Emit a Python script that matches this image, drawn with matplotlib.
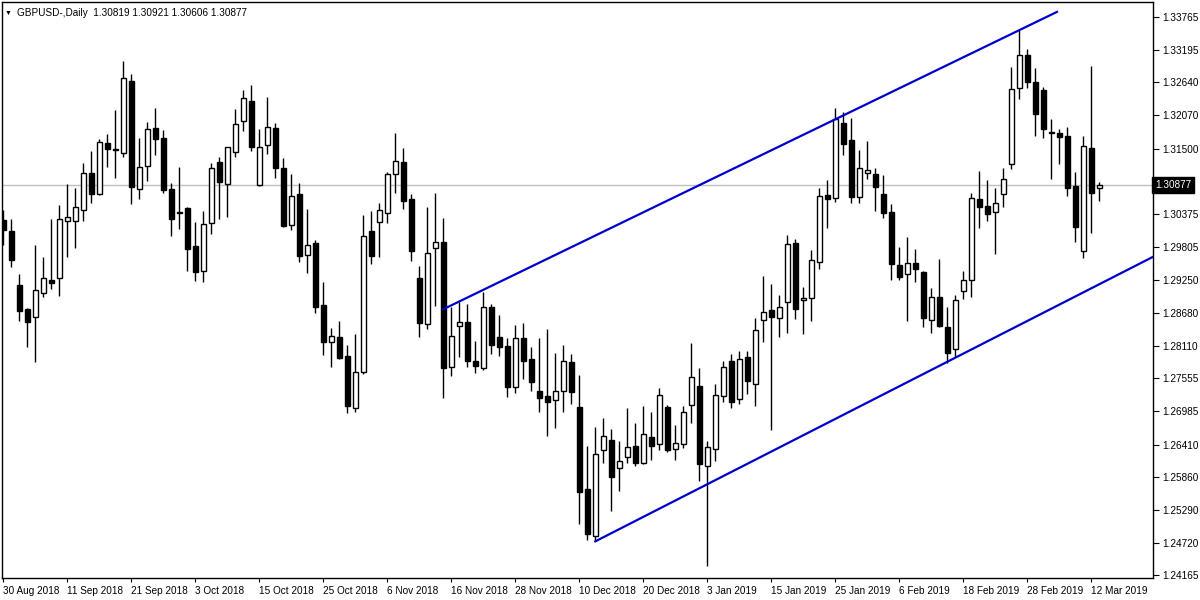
import matplotlib.pyplot as plt
import numpy as np

# daily GBPUSD candles, 30 Aug 2018 .. 13 Mar 2019
opens = [1.3027, 1.3008, 1.2915, 1.2874, 1.2860, 1.2902, 1.2925, 1.2927, 1.3025, 1.3025,
         1.3044, 1.3108, 1.3072, 1.3159, 1.3149, 1.3142, 1.3266, 1.3080, 1.3120, 1.3185,
         1.3168, 1.3080, 1.3041, 1.3048, 1.2982, 1.2939, 1.3022, 1.3127, 1.3089, 1.3144,
         1.3197, 1.3232, 1.3087, 1.3156, 1.3185, 1.3116, 1.3018, 1.3072, 1.2967, 1.2987,
         1.2881, 1.2817, 1.2826, 1.2793, 1.2704, 1.2766, 1.3008, 1.3024, 1.3039, 1.3106,
         1.3127, 1.3063, 1.2927, 1.2848, 1.2979, 1.2989, 1.2774, 1.2845, 1.2852, 1.2785,
         1.2773, 1.2878, 1.2826, 1.2810, 1.2740, 1.2824, 1.2788, 1.2733, 1.2725, 1.2718,
         1.2733, 1.2783, 1.2706, 1.2565, 1.2484, 1.2632, 1.2650, 1.2601, 1.2620, 1.2639,
         1.2609, 1.2654, 1.2642, 1.2706, 1.2633, 1.2642, 1.2709, 1.2742, 1.2604, 1.2633,
         1.2725, 1.2785, 1.2719, 1.2792, 1.2745, 1.2855, 1.2872, 1.2859, 1.2886, 1.2987,
         1.2890, 1.2893, 1.2955, 1.3070, 1.3065, 1.3194, 1.3165, 1.3067, 1.3108, 1.3106,
         1.3072, 1.3041, 1.2950, 1.2934, 1.2953, 1.2938, 1.2855, 1.2895, 1.2843, 1.2805,
         1.2905, 1.2924, 1.3063, 1.3051, 1.3041, 1.3072, 1.3123, 1.3254, 1.3311, 1.3264,
         1.3251, 1.3178, 1.3177, 1.3171, 1.3086, 1.2974, 1.3151, 1.30819]
highs = [1.3044, 1.3029, 1.2934, 1.2876, 1.2984, 1.2963, 1.3029, 1.3053, 1.3089, 1.3082,
         1.3125, 1.3146, 1.3166, 1.3175, 1.3216, 1.3300, 1.3278, 1.3168, 1.3196, 1.3220,
         1.3182, 1.3091, 1.3118, 1.3049, 1.3024, 1.3042, 1.3125, 1.3135, 1.3153, 1.3218,
         1.3251, 1.3259, 1.3183, 1.3239, 1.3194, 1.3134, 1.3106, 1.3091, 1.3046, 1.2993,
         1.2921, 1.2841, 1.2853, 1.2812, 1.2831, 1.3036, 1.3042, 1.3056, 1.3110, 1.3177,
         1.3151, 1.3072, 1.2948, 1.3049, 1.3073, 1.3030, 1.2878, 1.2886, 1.2883, 1.2819,
         1.2903, 1.2883, 1.2864, 1.2824, 1.2846, 1.2850, 1.2809, 1.2824, 1.2840, 1.2798,
         1.2812, 1.2797, 1.2761, 1.2639, 1.2671, 1.2687, 1.2668, 1.2647, 1.2705, 1.2678,
         1.2707, 1.2697, 1.2738, 1.2709, 1.2675, 1.2707, 1.2816, 1.2773, 1.2647, 1.2745,
         1.2785, 1.2797, 1.2802, 1.2802, 1.2859, 1.2931, 1.2917, 1.2898, 1.3001, 1.2994,
         1.2912, 1.2976, 1.3082, 1.3096, 1.3220, 1.3213, 1.3202, 1.3147, 1.3163, 1.3116,
         1.3104, 1.3055, 1.2981, 1.2998, 1.2977, 1.2939, 1.2910, 1.2960, 1.2878, 1.2898,
         1.2939, 1.3073, 1.3111, 1.3096, 1.3082, 1.3116, 1.3290, 1.3354, 1.3321, 1.3288,
         1.3256, 1.3201, 1.3183, 1.3187, 1.3110, 1.3171, 1.3292, 1.30921]
lows = [1.2984, 1.2946, 1.2853, 1.2809, 1.2783, 1.2895, 1.2908, 1.2896, 1.2963, 1.2979,
        1.3025, 1.3056, 1.3070, 1.3118, 1.3099, 1.3135, 1.3055, 1.3063, 1.3094, 1.3139,
        1.3073, 1.3000, 1.3011, 1.2939, 1.2922, 1.2921, 1.3003, 1.3029, 1.3032, 1.3135,
        1.3180, 1.3146, 1.3086, 1.3141, 1.3099, 1.3015, 1.3010, 1.2955, 1.2936, 1.2867,
        1.2795, 1.2774, 1.2789, 1.2695, 1.2697, 1.2762, 1.2951, 1.2963, 1.3022, 1.3073,
        1.3046, 1.2957, 1.2826, 1.2840, 1.2879, 1.2721, 1.2759, 1.2792, 1.2774, 1.2764,
        1.2769, 1.2797, 1.2793, 1.2723, 1.2730, 1.2754, 1.2733, 1.2697, 1.2656, 1.2669,
        1.2697, 1.2711, 1.2504, 1.2477, 1.2475, 1.2609, 1.2527, 1.2561, 1.2609, 1.2604,
        1.2608, 1.2614, 1.2632, 1.2628, 1.2614, 1.2635, 1.2678, 1.2578, 1.2432, 1.2613,
        1.2714, 1.2704, 1.2711, 1.2728, 1.2707, 1.2817, 1.2666, 1.2826, 1.2833, 1.2857,
        1.2831, 1.2853, 1.2943, 1.3013, 1.3058, 1.3139, 1.3056, 1.3056, 1.3098, 1.3042,
        1.3030, 1.2925, 1.2925, 1.2853, 1.2921, 1.2843, 1.2833, 1.2843, 1.2781, 1.2792,
        1.2891, 1.2895, 1.3013, 1.3025, 1.2969, 1.3049, 1.3115, 1.3235, 1.3254, 1.3171,
        1.3168, 1.3098, 1.3123, 1.3068, 1.2989, 1.2962, 1.3005, 1.30606]
closes = [1.3010, 1.2958, 1.2871, 1.2852, 1.2907, 1.2927, 1.2919, 1.3029, 1.3032, 1.3049,
          1.3108, 1.3072, 1.3161, 1.3149, 1.3147, 1.3271, 1.3084, 1.3118, 1.3183, 1.3166,
          1.3079, 1.3029, 1.3040, 1.2977, 1.2938, 1.3020, 1.3116, 1.3092, 1.3153, 1.3192,
          1.3237, 1.3153, 1.3153, 1.3187, 1.3116, 1.3017, 1.3068, 1.2965, 1.2984, 1.2878,
          1.2817, 1.2828, 1.2790, 1.2707, 1.2766, 1.3000, 1.2965, 1.3044, 1.3106, 1.3129,
          1.3060, 1.2974, 1.2850, 1.2970, 1.2989, 1.2773, 1.2828, 1.2852, 1.2785, 1.2776,
          1.2878, 1.2812, 1.2809, 1.2740, 1.2824, 1.2785, 1.2749, 1.2721, 1.2714, 1.2733,
          1.2785, 1.2731, 1.2560, 1.2487, 1.2625, 1.2656, 1.2585, 1.2613, 1.2637, 1.2609,
          1.2659, 1.2639, 1.2726, 1.2632, 1.2644, 1.2697, 1.2757, 1.2608, 1.2637, 1.2726,
          1.2774, 1.2714, 1.2788, 1.2750, 1.2838, 1.2869, 1.2860, 1.2878, 1.2986, 1.2874,
          1.2893, 1.2958, 1.3068, 1.3063, 1.3201, 1.3158, 1.3067, 1.3116, 1.3113, 1.3084,
          1.3039, 1.2951, 1.2929, 1.2953, 1.2943, 1.2859, 1.2895, 1.2845, 1.2798, 1.2890,
          1.2925, 1.3065, 1.3049, 1.3037, 1.3056, 1.3098, 1.3252, 1.3311, 1.3264, 1.3209,
          1.3183, 1.3177, 1.3170, 1.3082, 1.3015, 1.3154, 1.3073, 1.30877]

date_labels = ["30 Aug 2018", "11 Sep 2018", "21 Sep 2018", "3 Oct 2018", "15 Oct 2018",
               "25 Oct 2018", "6 Nov 2018", "16 Nov 2018", "28 Nov 2018", "10 Dec 2018",
               "20 Dec 2018", "3 Jan 2019", "15 Jan 2019", "25 Jan 2019", "6 Feb 2019",
               "18 Feb 2019", "28 Feb 2019", "12 Mar 2019"]
price_ticks = [1.33765, 1.33195, 1.32640, 1.32070, 1.31500, 1.30945, 1.30375, 1.29805,
               1.29250, 1.28680, 1.28110, 1.27555, 1.26985, 1.26410, 1.25860, 1.25290,
               1.24720, 1.24165]

# channel lines (bar index, price)
upper_x = [55, 131.7]
upper_y = [1.2874, 1.3385]
lower_x = [74, 137]
lower_y = [1.2475, 1.2917]

plt.rcParams['font.family'] = ['Liberation Sans', 'DejaVu Sans']
fs = 7.2

fig = plt.figure(figsize=(12, 6), dpi=100)
ax = fig.add_axes([2 / 1200, 22 / 600, 1151 / 1200, 576 / 600])

o = np.array(opens)
h = np.array(highs)
l = np.array(lows)
c = np.array(closes)
x = np.arange(len(o))
up = c >= o

ax.axhline(closes[-1], color="#c0c0c0", lw=1, zorder=1)
ax.vlines(x, l, h, color="black", lw=1, zorder=2)
ax.bar(x[up], (c - o)[up], bottom=o[up], width=0.58, color="white",
       edgecolor="black", lw=1, zorder=3)
ax.bar(x[~up], (o - c)[~up], bottom=c[~up], width=0.58, color="black",
       edgecolor="black", lw=1, zorder=3)

ax.plot(upper_x, upper_y, color="#0000cd", lw=1.6, zorder=4)
k, b = np.polyfit(lower_x, lower_y, 1)
xe = np.array([lower_x[0], 144])
ax.plot(xe, k * xe + b, color="#0000cd", lw=1.6, zorder=4)

ax.set_xlim(-0.16, 143.7)
ax.set_ylim(1.2412, 1.3402)

ax.set_xticks(range(0, len(o), 8))
ax.set_xticklabels(date_labels, ha="left", fontsize=fs)
ax.yaxis.tick_right()
ax.set_yticks(price_ticks)
# the label next to the current price is covered by the price box
ax.set_yticklabels(["" if abs(p - closes[-1]) < 0.001 else f"{p:.5f}" for p in price_ticks],
                   fontsize=fs)
ax.tick_params(axis="x", length=3, pad=3)
ax.tick_params(axis="y", length=4, pad=3)
for s in ax.spines.values():
    s.set_color("black")
    s.set_linewidth(1)

ax.text(1.0017, closes[-1], f"{closes[-1]:.5f}", transform=ax.get_yaxis_transform(),
        fontsize=fs, color="white", va="center", ha="left", zorder=10,
        bbox=dict(boxstyle="square,pad=0.3", fc="black", ec="black"))

fig.text(8 / 1200, 1 - 13 / 600, "\u25bc", fontsize=5, va="center", ha="center")
fig.text(17 / 1200, 1 - 13 / 600, "GBPUSD-,Daily  1.30819 1.30921 1.30606 1.30877",
         fontsize=fs, va="center", ha="left")

fig.savefig("out.png", dpi=100)
